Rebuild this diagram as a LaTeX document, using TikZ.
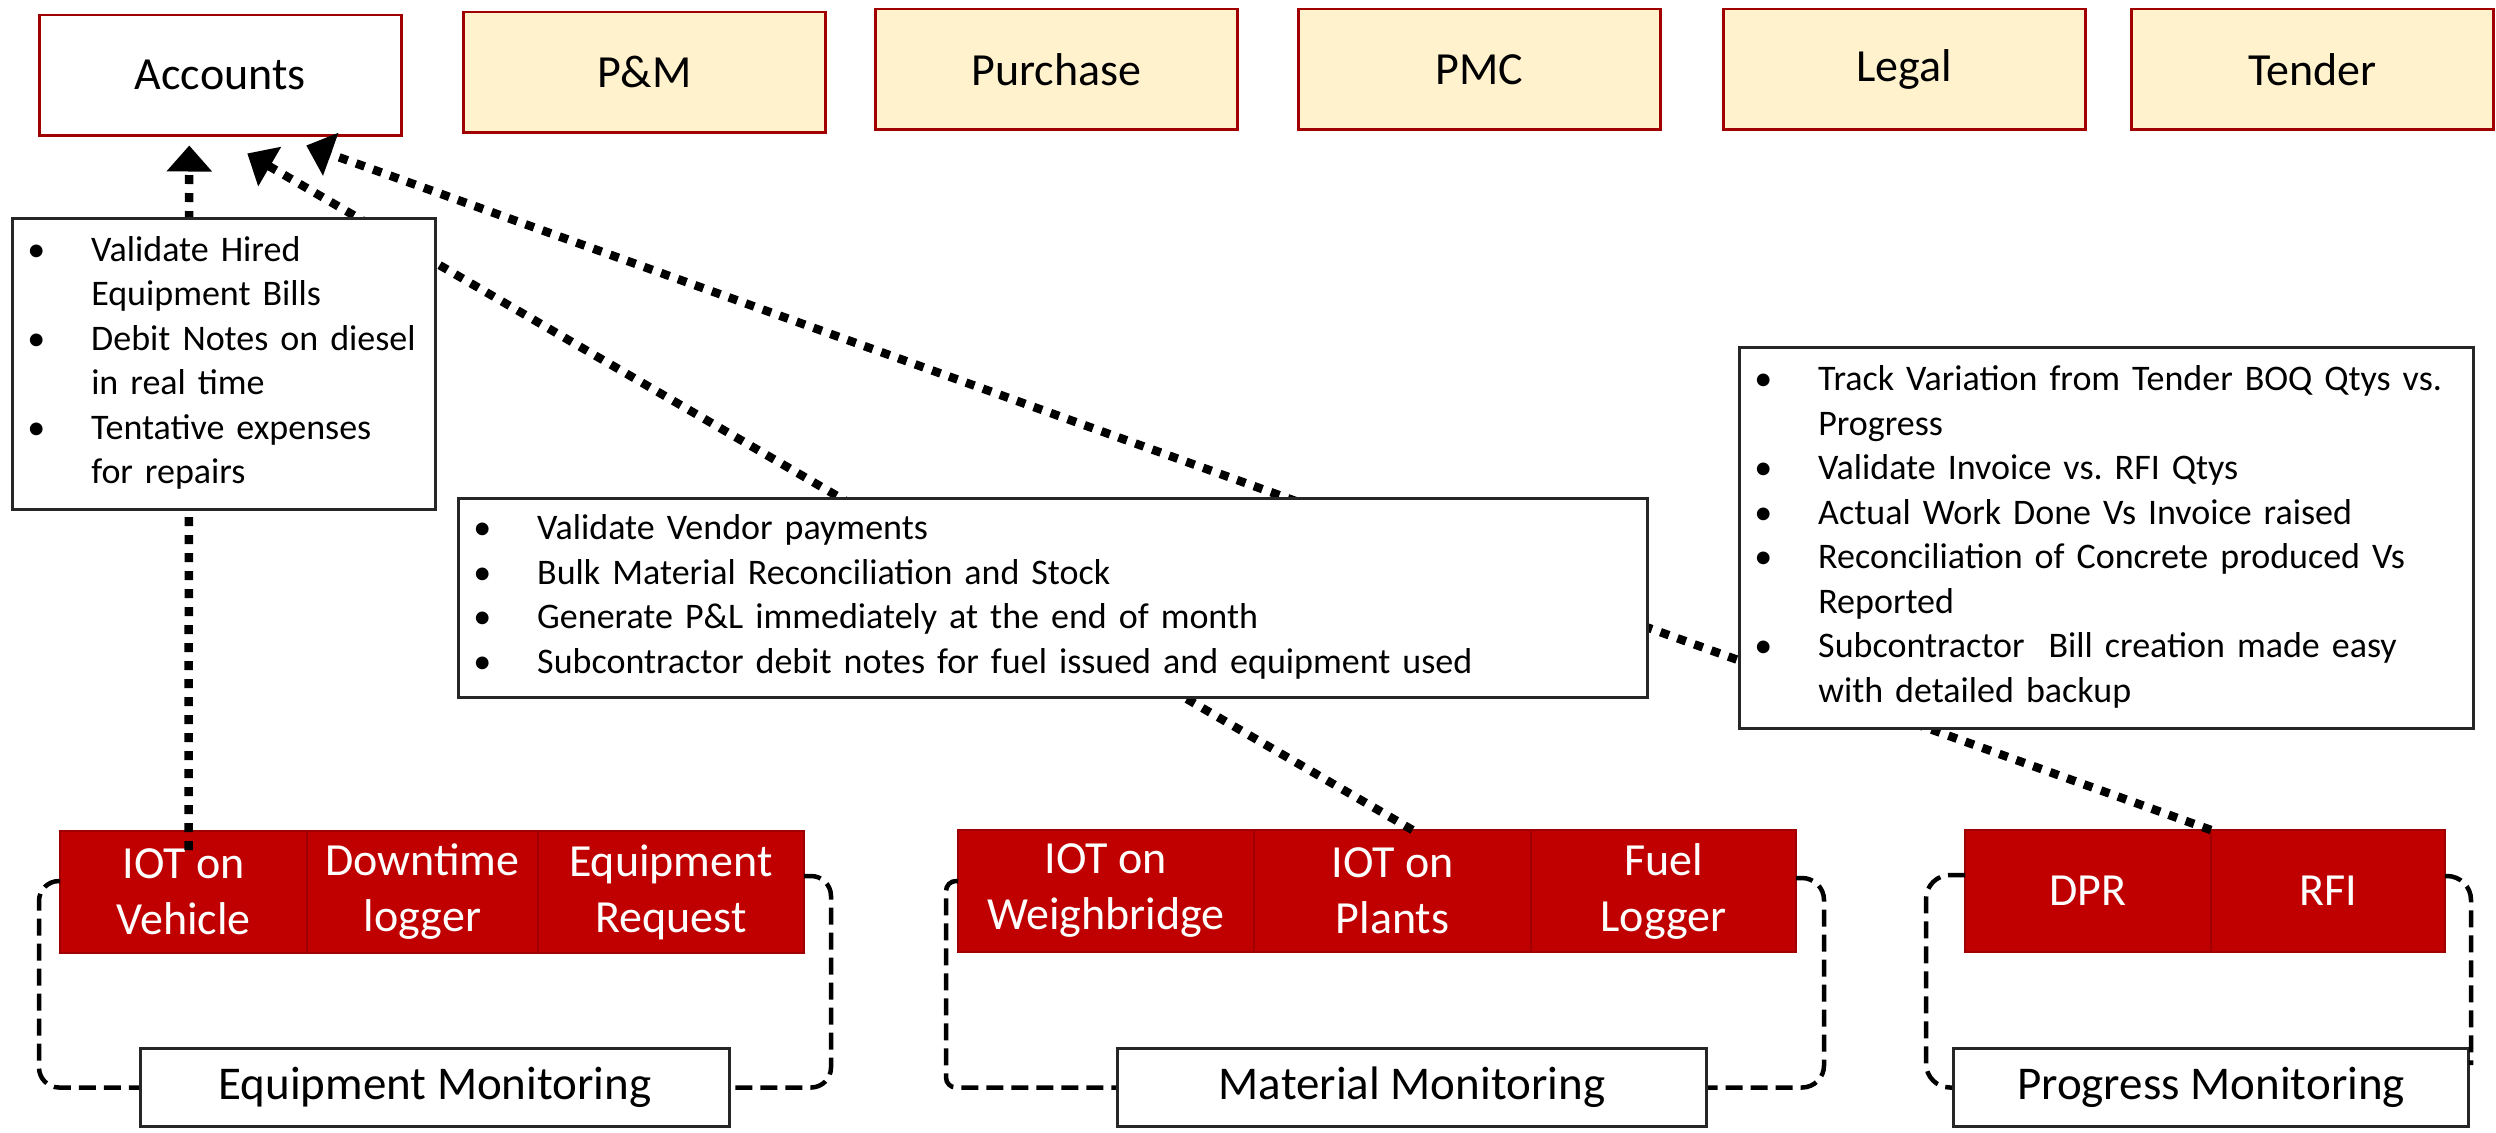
\documentclass[tikz,border=0pt]{standalone}
\usepackage{fontspec}
\setmainfont{Carlito}
\usetikzlibrary{positioning,arrows.meta}
\definecolor{deptedge}{HTML}{A00000}
\definecolor{deptfill}{HTML}{FFF2CC}
\definecolor{iotfill}{HTML}{C00000}
\definecolor{iotedge}{HTML}{A00000}
\newcommand{\pointlist}[1]{\begin{tabular}{@{}p{64pt}@{}l@{}}#1\end{tabular}}
\newcommand{\itm}{\textbullet &}
\frenchspacing

\begin{document}
\begin{tikzpicture}[
    x=1pt, y=-1pt,
    deptbox/.style={
        draw=deptedge,
        line width=2.5pt,
        fill=deptfill,
        minimum width=362pt,
        minimum height=120pt,
        anchor=north west,
        font=\fontsize{46}{55}\selectfont
    },
    devbox/.style={
        draw=iotedge,
        line width=1.5pt,
        fill=iotfill,
        text=white,
        minimum height=122pt,
        outer sep=0pt,
        align=center,
        font=\fontsize{46}{56}\selectfont
    },
    monbox/.style={
        draw=black!85,
        line width=3pt,
        fill=white,
        minimum height=78pt,
        anchor=north west,
        font=\fontsize{47}{56}\selectfont
    },
    notebox/.style={
        draw=black!85,
        line width=2.5pt,
        fill=white,
        inner xsep=15pt,
        inner ysep=0pt,
        anchor=north west,
        align=left,
        font=\fontsize{36}{44.5}\selectfont
    },
    feedline/.style={
        line width=8.5pt,
        dash pattern=on 9pt off 9pt,
        -{Triangle[length=26pt,width=44pt]}
    },
    monloop/.style={
        line width=4.5pt,
        dash pattern=on 17pt off 8pt
    },
    ]
    \useasboundingbox (0,0) rectangle (2496,1132);

    \node[deptbox, fill=white] (acc) at (38,14) {Accounts};
    \node[deptbox] (pm) at (462,11) {P\&M};
    \node[deptbox] (pur) at (874,8) {Purchase};
    \node[deptbox] (pmc) at (1297,8) {PMC};
    \node[deptbox] (leg) at (1722,8) {Legal};
    \node[deptbox] (ten) at (2130,8) {Tender};

    \node[devbox, minimum width=247pt, anchor=north west] (ivh) at (60,831) {IOT on\\Vehicle};
    \node[devbox, minimum width=231pt, right=0pt of ivh] (dtl) {Downtime\\logger};
    \node[devbox, minimum width=266pt, right=0pt of dtl] (eqr) {Equipment\\Request};
    \node[devbox, minimum width=296pt, anchor=north west] (wgb) at (958,830) {IOT on\\Weighbridge};
    \node[devbox, minimum width=277pt, right=0pt of wgb] (iop) {IOT on\\Plants};
    \node[devbox, minimum width=265pt, right=0pt of iop] (fue) {Fuel\\Logger};
    \node[devbox, minimum width=246pt, anchor=north west] (dpr) at (1965,830) {DPR};
    \node[devbox, minimum width=234pt, right=0pt of dpr] (rfi) {RFI};

    \draw[feedline] ([xshift=5pt,yshift=-19pt]ivh.north) -- ([xshift=-31pt,yshift=-9pt]acc.south);
    \draw[feedline] ([xshift=20pt]iop.north) -- ([xshift=27pt,yshift=-17pt]acc.south);
    \draw[feedline] (dpr.north east) -- ([xshift=86pt,yshift=-9pt]acc.south);

    \node[notebox, text width=393pt, minimum height=291pt] (eqnote) at (11,217) {\pointlist{
        \itm Validate Hired\\
        & Equipment Bills\\
        \itm Debit Notes on diesel\\
        & in real time\\
        \itm Tentative expenses\\
        & for repairs}};
    \node[notebox, text width=1159pt, minimum height=199pt] (manote) at (457,497) {\pointlist{
        \itm Validate Vendor payments\\
        \itm Bulk Material Reconciliation and Stock\\
        \itm Generate P\&L immediately at the end of month\\
        \itm Subcontractor debit notes for fuel issued and equipment used}};
    \node[notebox, text width=704pt, minimum height=381pt] (prnote) at (1738,346) {\pointlist{
        \itm Track Variation from Tender BOQ Qtys vs.\\
        & Progress\\
        \itm Validate Invoice vs. RFI Qtys\\
        \itm Actual Work Done Vs Invoice raised\\
        \itm Reconciliation of Concrete produced Vs\\
        & Reported\\
        \itm Subcontractor\ \ Bill creation made easy\\
        & with detailed backup}};

    \node[monbox, minimum width=589pt] (eqmon) at (139,1047) {Equipment Monitoring};
    \node[monbox, minimum width=589pt] (mamon) at (1116,1047) {Material Monitoring};
    \node[monbox, minimum width=515pt] (prmon) at (1952,1047) {Progress Monitoring};

    \draw[monloop, rounded corners=20pt] ([yshift=11pt]ivh.west) -| ([xshift=-100pt]eqmon.west) -- (eqmon.west);
    \draw[monloop, rounded corners=20pt] ([yshift=16pt]eqr.east) -| ([xshift=100pt]eqmon.east) -- (eqmon.east);
    \draw[monloop, rounded corners=10pt] ([yshift=10pt]wgb.west) -| ([xshift=-170pt]mamon.west) -- (mamon.west);
    \draw[monloop, rounded corners=22pt] ([yshift=13pt]fue.east) -| ([xshift=116pt]mamon.east) -- (mamon.east);
    \draw[monloop, rounded corners=24pt] ([yshift=16pt]dpr.west) -| ([xshift=-26pt]prmon.west) -- (prmon.west);
    \draw[monloop, rounded corners=24pt] ([yshift=15pt]rfi.east) -| ([xshift=1pt,yshift=-18pt]prmon.north east);
\end{tikzpicture}
\end{document}
